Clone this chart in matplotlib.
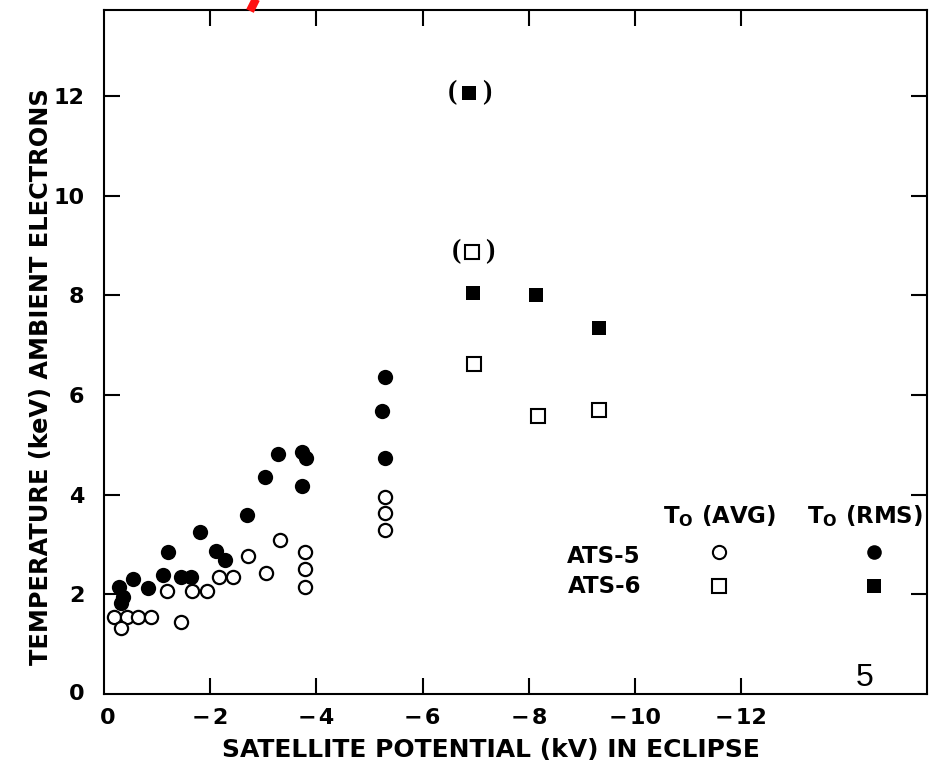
import matplotlib
matplotlib.use('Agg')
import matplotlib.pyplot as plt
from matplotlib.lines import Line2D

plt.rcParams['font.family'] = ['DejaVu Sans']
plt.rcParams['mathtext.fontset'] = 'custom'
plt.rcParams['mathtext.rm'] = 'DejaVu Sans:bold'
plt.rcParams['mathtext.bf'] = 'DejaVu Sans:bold'

# ---------------- data ----------------
# ATS-5, T0 (RMS): filled circles
ats5_rms_x = [-5.29, -5.24, -5.29, -3.28, -3.73, -3.80, -3.73, -3.03, -2.69, -1.81,
              -1.21, -2.11, -2.28, -0.55, -0.83, -0.28, -0.36, -0.32, -1.11, -1.45, -1.64]
ats5_rms_y = [6.37, 5.68, 4.74, 4.82, 4.86, 4.74, 4.18, 4.36, 3.59, 3.25,
              2.85, 2.87, 2.69, 2.31, 2.13, 2.15, 1.95, 1.83, 2.39, 2.35, 2.35]
# ATS-5, T0 (AVG): open circles
ats5_avg_x = [-5.29, -5.29, -5.29, -3.31, -3.79, -3.79, -3.79, -2.71, -3.05, -2.17,
              -2.43, -1.19, -1.66, -1.94, -0.19, -0.43, -0.64, -0.89, -0.32, -1.45]
ats5_avg_y = [3.96, 3.63, 3.29, 3.09, 2.85, 2.51, 2.15, 2.77, 2.43, 2.35,
              2.35, 2.07, 2.07, 2.07, 1.55, 1.55, 1.55, 1.55, 1.33, 1.45]
# ATS-6, T0 (RMS): filled squares
ats6_rms_x = [-6.95, -8.14, -9.32]
ats6_rms_y = [8.05, 8.01, 7.35]
# ATS-6, T0 (AVG): open squares
ats6_avg_x = [-6.97, -8.17, -9.32]
ats6_avg_y = [6.63, 5.58, 5.70]
# questionable (parenthesised) points
paren_rms_x, paren_rms_y = [-6.87], [12.07]
paren_avg_x, paren_avg_y = [-6.93], [8.88]

xticks = [0, -2, -4, -6, -8, -10, -12]
xticklabels = ['0', '\u2212\u200a2', '\u2212\u200a4', '\u2212\u200a6', '\u2212\u200a8',
               '\u2212\u200a10', '\u2212\u200a12']
yticks = [0, 2, 4, 6, 8, 10, 12]
yticklabels = ['0', '2', '4', '6', '8', '10', '12']

# ---------------- figure ----------------
W, H = 938, 762
fig = plt.figure(figsize=(W / 100, H / 100), dpi=100)
fig.patch.set_facecolor('white')


def fx(px):
    return px / W


def fy(py):
    return 1 - py / H


ax = fig.add_axes([fx(104), fy(694), (927 - 104) / W, (694 - 10) / H])
ax.set_xlim(0, -15.5)
ax.set_ylim(0, 13.73)

for s in ax.spines.values():
    s.set_linewidth(1.5)
    s.set_color('black')

ax.set_xticks(xticks[1:])
ax.set_xticklabels(xticklabels[1:])
ax.set_yticks(yticks[1:])
ax.set_yticklabels(yticklabels[1:])
ax.tick_params(axis='both', direction='in', length=11.5, width=1.5,
               top=True, right=True, labelsize=16)
for lab in ax.get_xticklabels() + ax.get_yticklabels():
    lab.set_fontweight('bold')
ax.tick_params(axis='x', pad=10)
ax.tick_params(axis='y', pad=14)
# "0" labels at corner
fig.text(fx(108), fy(718), xticklabels[0], ha='center', va='center', fontsize=16, fontweight='bold')
fig.text(fx(84), fy(694), yticklabels[0], ha='right', va='center', fontsize=16, fontweight='bold')

# data
ax.plot(ats5_rms_x, ats5_rms_y, 'o', ms=11, mfc='black', mec='black', mew=0, ls='none', zorder=3)
ax.plot(ats5_avg_x, ats5_avg_y, 'o', ms=9.5, mfc='white', mec='black', mew=1.6, ls='none', zorder=4)
ax.plot(ats6_rms_x + paren_rms_x, ats6_rms_y + paren_rms_y, 's', ms=10.5, mfc='black',
        mec='black', mew=0, ls='none', zorder=3)
ax.plot(ats6_avg_x + paren_avg_x, ats6_avg_y + paren_avg_y, 's', ms=9.5, mfc='white',
        mec='black', mew=1.5, ls='none', zorder=4)

for px_, py_ in [(paren_rms_x[0], paren_rms_y[0]), (paren_avg_x[0], paren_avg_y[0])]:
    ax.annotate('(', (px_, py_), xytext=(-11.5, 0), textcoords='offset points',
                ha='center', va='center', fontsize=20, fontweight='bold',
                family='Liberation Serif')
    ax.annotate(')', (px_, py_), xytext=(13, 0), textcoords='offset points',
                ha='center', va='center', fontsize=20, fontweight='bold',
                family='Liberation Serif')

# legend (manual)
fig.text(fx(663), fy(523), r'T$_\mathrm{O}$ (AVG)', ha='left', va='baseline', fontsize=16.5, fontweight='bold')
fig.text(fx(807), fy(523), r'T$_\mathrm{O}$ (RMS)', ha='left', va='baseline', fontsize=16.5, fontweight='bold')
fig.text(fx(641), fy(563), 'ATS-5', ha='right', va='baseline', fontsize=16.5, fontweight='bold')
fig.text(fx(641), fy(593), 'ATS-6', ha='right', va='baseline', fontsize=16.5, fontweight='bold')
for (mx, my, mk, fc) in [(719, 552, 'o', 'white'), (874, 552, 'o', 'black'),
                         (719, 586, 's', 'white'), (874, 586, 's', 'black')]:
    fig.add_artist(Line2D([fx(mx)], [fy(my)], marker=mk, ms=9.5 if fc == 'white' else 10.5,
                          mfc=fc, mec='black', mew=1.5 if fc == 'white' else 0,
                          ls='none', transform=fig.transFigure))

# axis labels
fig.text(fx(491), fy(750), 'SATELLITE POTENTIAL (kV) IN ECLIPSE', ha='center', va='center',
         fontsize=18, fontweight='bold')
fig.text(fx(41), fy(377), 'TEMPERATURE (keV) AMBIENT ELECTRONS', ha='center', va='center',
         rotation=90, fontsize=17.3, fontweight='bold')

# page number
fig.text(fx(865), fy(678), '5', ha='center', va='center', fontsize=23, family='Liberation Sans')

# red pen stroke at the top edge
fig.add_artist(Line2D([fx(250), fx(257)], [fy(11), fy(-3)], color='#ff1010', lw=6,
                      solid_capstyle='butt', transform=fig.transFigure))

fig.savefig('out.png', dpi=100)
